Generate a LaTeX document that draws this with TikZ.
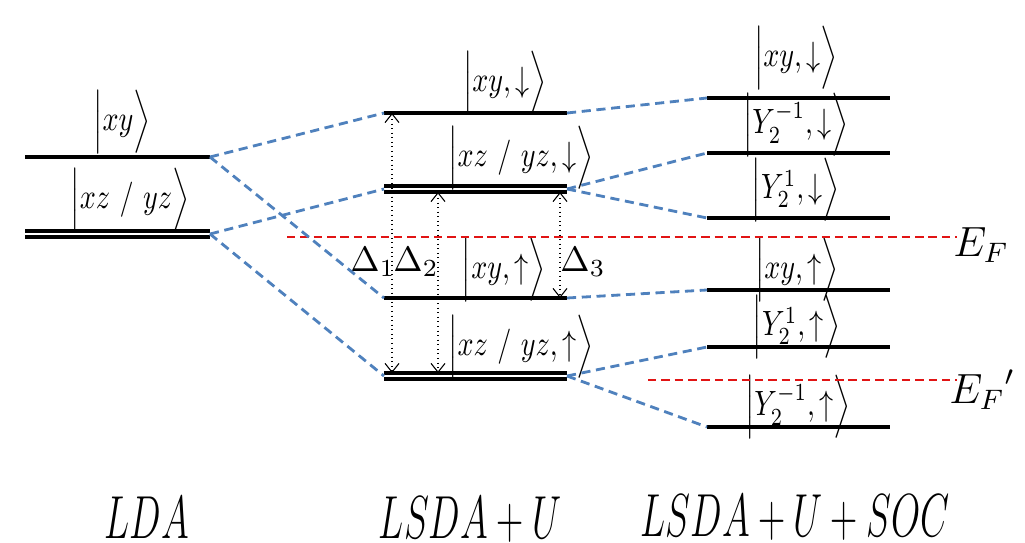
\documentclass[tikz,border=0pt]{standalone}
\usepackage{graphicx}
\usepackage{tikz}
\usetikzlibrary{calc}
\usetikzlibrary{arrows.meta}
\definecolor{linkblue}{RGB}{79,129,189}
\definecolor{fermired}{RGB}{225,20,20}
\newcommand{\ketlbl}[1]{\scalebox{0.8}[1]{$\Bigl|#1\Bigr\rangle$}}
\newcommand{\methlbl}[1]{\scalebox{0.62}[1]{\LARGE$#1$}}
\tikzset{
  level/.style={line width=0.9pt},
  conn/.style={linkblue, line width=0.8pt, dash pattern=on 2.6pt off 1.6pt},
  fermi/.style={fermired, line width=0.7pt, dash pattern=on 2.4pt off 1.4pt},
  gaparrow/.style={densely dotted, line width=0.3pt, {Straight Barb[length=2.5pt,width=4pt]}-{Straight Barb[length=2.5pt,width=4pt]}},
  lbl/.style={inner sep=0pt}
}
\begin{document}
\begin{tikzpicture}[x=0.01cm,y=-0.01cm]
\useasboundingbox (0,0) rectangle (1025,543);

%LDA
\draw[level] (25,157) -- (210,157);
\coordinate (ldaxy) at (210,157);
\draw[level] (25,231) -- (210,231);
\draw[level] (25,237) -- (210,237);
\coordinate (ldaxz) at (210,234);
\node[lbl] (kldaxy) at (122,122) {\ketlbl{xy}};
\node[lbl] (kldaxz) at (130,200) {\ketlbl{xz\ /\ yz}};
\node[lbl] (mlda) at (147,518) {\methlbl{LDA}};

%LSDA+U
\draw[level] (384,113) -- (567,113);
\coordinate (uxydnL) at (384,113);
\coordinate (uxydnR) at (567,113);
\draw[level] (384,186) -- (567,186);
\draw[level] (384,192) -- (567,192);
\coordinate (uxzdnL) at (384,189);
\coordinate (uxzdnR) at (567,189);
\draw[level] (384,298) -- (567,298);
\coordinate (uxyupL) at (384,298);
\coordinate (uxyupR) at (567,298);
\draw[level] (384,373) -- (567,373);
\draw[level] (384,379) -- (567,379);
\coordinate (uxzupL) at (384,376);
\coordinate (uxzupR) at (567,376);
\node[lbl] (kuxydn) at (505,83) {\ketlbl{xy,\downarrow}};
\node[lbl] (kuxzdn) at (521,158) {\ketlbl{xz\ /\ yz,\downarrow}};
\node[lbl] (kuxyup) at (504,270) {\ketlbl{xy,\uparrow}};
\node[lbl] (kuxzup) at (521,347) {\ketlbl{xz\ /\ yz,\uparrow}};
\node[lbl] (mlsda) at (470,520) {\methlbl{LSDA+U}};

%gaps
\coordinate (d1a) at (392,113);
\coordinate (d1b) at (392,373);
\coordinate (d2a) at (438,192);
\coordinate (d2b) at (438,373);
\coordinate (d3a) at (560,192);
\coordinate (d3b) at (560,298);
\draw[gaparrow] (d1a) -- (d1b);
\draw[gaparrow] (d2a) -- (d2b);
\draw[gaparrow] (d3a) -- (d3b);
\node[lbl] (del1) at (373,262) {$\Delta_1$};
\node[lbl] (del2) at (416,262) {$\Delta_2$};
\node[lbl] (del3) at (583,262) {$\Delta_3$};

%LSDA+U+SOC
\draw[level] (707,98) -- (890,98);
\coordinate (sxydn) at (707,98);
\draw[level] (707,153) -- (890,153);
\coordinate (symdn) at (707,153);
\draw[level] (707,218) -- (890,218);
\coordinate (sypdn) at (707,218);
\draw[level] (707,290) -- (890,290);
\coordinate (sxyup) at (707,290);
\draw[level] (707,347) -- (890,347);
\coordinate (sypup) at (707,347);
\draw[level] (707,427) -- (890,427);
\coordinate (symup) at (707,427);
\node[lbl] (ksxydn) at (796,58) {\ketlbl{xy,\downarrow}};
\node[lbl] (ksymdn) at (796,125) {\ketlbl{Y_2^{-1},\downarrow}};
\node[lbl] (ksypdn) at (796,190) {\ketlbl{Y_2^{1},\downarrow}};
\node[lbl] (ksxyup) at (797,270) {\ketlbl{xy,\uparrow}};
\node[lbl] (ksypup) at (797,327) {\ketlbl{Y_2^{1},\uparrow}};
\node[lbl] (ksymup) at (798,407) {\ketlbl{Y_2^{-1},\uparrow}};
\node[lbl] (msoc) at (795,518) {\methlbl{LSDA+U+SOC}};

%Fermi levels
\coordinate (efL) at (287,237);
\coordinate (efR) at (957,237);
\coordinate (efpL) at (648,380);
\coordinate (efpR) at (957,380);
\draw[fermi] (efL) -- (efR);
\draw[fermi] (efpL) -- (efpR);
\node[lbl] (ef) at (981,245) {\large$E_F$};
\node[lbl] (efp) at (982,390) {\large${E_F}'$};

%connections
\draw[conn] (ldaxy) -- (uxydnL);
\draw[conn] (ldaxy) -- (uxyupL);
\draw[conn] (ldaxz) -- (uxzdnL);
\draw[conn] (ldaxz) -- (uxzupL);
\draw[conn] (uxydnR) -- (sxydn);
\draw[conn] (uxzdnR) -- (symdn);
\draw[conn] (uxzdnR) -- (sypdn);
\draw[conn] (uxyupR) -- (sxyup);
\draw[conn] (uxzupR) -- (sypup);
\draw[conn] (uxzupR) -- (symup);

\end{tikzpicture}
\end{document}
